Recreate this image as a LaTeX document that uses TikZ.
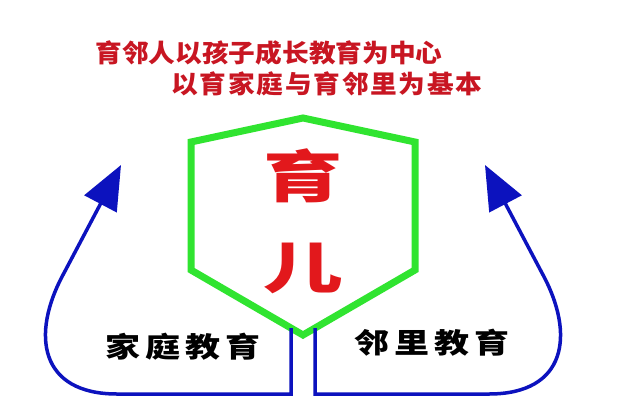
\documentclass[tikz,border=0pt]{standalone}
\usepackage{fontspec}
\newfontfamily\cjk{Noto Sans CJK SC}
\newfontfamily\cjkwideA[LetterSpace=6.6]{Noto Sans CJK SC}
\newfontfamily\cjkwideB[LetterSpace=14]{Noto Sans CJK SC}
\usetikzlibrary{arrows.meta}
\definecolor{topred}{RGB}{200,22,34}
\definecolor{bigred}{RGB}{226,24,28}
\definecolor{hexgreen}{RGB}{48,228,48}
\definecolor{arrowblue}{RGB}{12,18,190}
\tikzset{
  headline/.style={text=topred, font=\cjk\bfseries\fontsize{25}{25}\selectfont, xscale=1.067, inner sep=0pt},
  bigchar/.style={text=bigred, font=\cjk\bfseries\fontsize{56}{56}\selectfont, xscale=1.42, inner sep=0pt},
  label/.style={text=black, font=\cjkwideB\bfseries\fontsize{28}{28}\selectfont, xscale=1.25, inner sep=0pt},
  hexline/.style={draw=hexgreen, line width=7pt, line join=miter},
  flow/.style={draw=arrowblue, line width=3.5pt, -{Triangle[length=44pt,width=36pt]}}
}
\begin{document}
\begin{tikzpicture}[x=1pt,y=-1pt]
\useasboundingbox[fill=white] (0,0) rectangle (622,416);
% headings
\node[headline] (h1) at (269,53) {育邻人以孩子成长教育为中心};
\node[headline, font=\cjkwideA\bfseries\fontsize{25}{25}\selectfont] (h2) at (327,84) {以育家庭与育邻里为基本};
% hexagon
\coordinate (ht) at (303,118);
\coordinate (hrt) at (415,142);
\coordinate (hrb) at (415,270);
\coordinate (hb) at (303,335);
\coordinate (hlb) at (191,270);
\coordinate (hlt) at (191,142);
\draw[hexline] (ht) -- (hrt) -- (hrb) -- (hb) -- (hlb) -- (hlt) -- cycle;
\node[bigchar] (c1) at (303,176) {育};
\node[bigchar] (c2) at (303,268) {儿};
% flows
\coordinate (ls) at (291,328);
\coordinate (lc) at (291,394);
\coordinate (lb) at (117,394);
\coordinate (lm) at (64,273);
\coordinate (lt) at (121,165);
\coordinate (rs) at (315,328);
\coordinate (rc) at (315,394);
\coordinate (rb) at (489,394);
\coordinate (rm) at (542,273);
\coordinate (rt) at (485,165);
\draw[flow] (ls) -- (lc) -- (lb) .. controls (40,394) and (30,335) .. (lm) -- (lt);
\draw[flow] (rs) -- (rc) -- (rb) .. controls (566,394) and (576,335) .. (rm) -- (rt);
\node[label] (l1) at (183,347) {家庭教育};
\node[label] (l2) at (432,343) {邻里教育};
\end{tikzpicture}
\end{document}
